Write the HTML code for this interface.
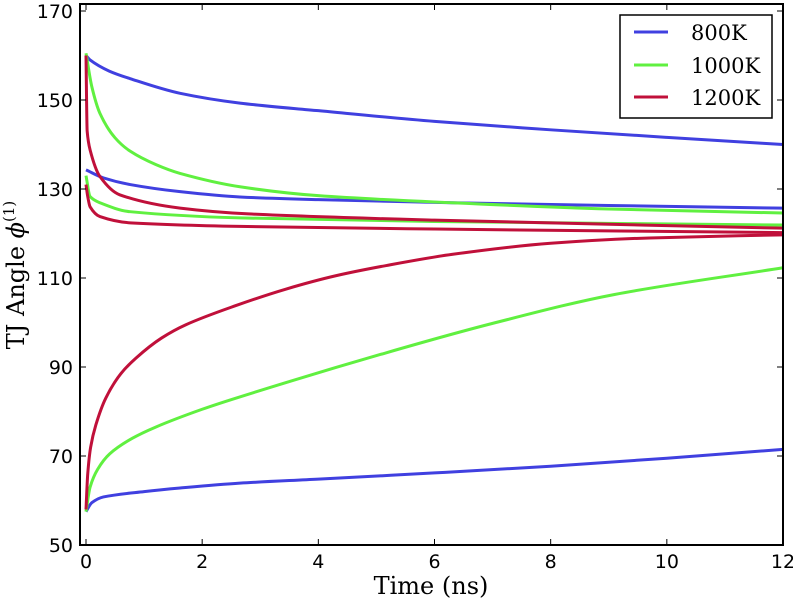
<!DOCTYPE html>
<html><head><meta charset="utf-8"><style>
body{margin:0;background:#fff;}
svg{display:block;}
.tk{font-family:"DejaVu Sans","Liberation Sans",sans-serif;font-size:19px;fill:#000;}
.lab{font-family:"DejaVu Serif","Liberation Serif",serif;font-size:24px;fill:#000;}
.leg{font-family:"DejaVu Serif","Liberation Serif",serif;font-size:21px;fill:#000;}
</style></head><body>
<svg id="chart" width="793" height="601">
<g id="series"></g>
<rect x="80" y="4" width="703" height="541" fill="none" stroke="#000" stroke-width="2"/>
<g id="ticks"></g>
<text class="lab" x="431" y="594" text-anchor="middle">Time (ns)</text>
<text class="lab" transform="translate(24,275) rotate(-90)" text-anchor="middle">TJ Angle <tspan font-style="italic">ϕ</tspan><tspan font-size="15" dy="-10">(1)</tspan></text>
<g>
<rect x="620" y="15" width="152" height="103" fill="#fff" stroke="#000" stroke-width="1.5"/>
<line x1="634" y1="32" x2="668" y2="32" stroke="#4040e0" stroke-width="3"/>
<text class="leg" x="691" y="40">800K</text>
<line x1="634" y1="65" x2="668" y2="65" stroke="#60f040" stroke-width="3"/>
<text class="leg" x="691" y="73">1000K</text>
<line x1="634" y1="97" x2="668" y2="97" stroke="#c0103a" stroke-width="3"/>
<text class="leg" x="691" y="105">1200K</text>
</g>
</svg>
<script>
const xTicks=[0,2,4,6,8,10,12];
const yTicks=[50,70,90,110,130,150,170];
const t800a=[0,0.07,0.4,0.76,1.62,2.65,4,6,8,10,12];
const v800a=[160,159,156.5,154.8,151.5,149.3,147.6,145.2,143.3,141.6,140];
const t800b=[0,0.3,0.76,1.62,2.65,4,6.3,9,12];
const v800b=[134.3,132.5,131,129.4,128.2,127.6,126.9,126.3,125.7];
const t800c=[0,0.1,0.3,1,1.62,2.65,4,6,8,10,12];
const v800c=[57.5,59.5,60.8,62,62.8,63.9,64.8,66.2,67.7,69.5,71.5];
const t1000a=[0,0.1,0.24,0.5,0.76,1.2,1.62,2.65,4,6.3,9,12];
const v1000a=[160.5,153,147,141.5,138.5,135.5,133.5,130.5,128.5,126.9,125.5,124.6];
const t1000b=[0,0.07,0.24,0.76,2.65,6,12];
const v1000b=[133,128.3,126.9,124.9,123.5,122.7,121.9];
const t1000c=[0,0.07,0.2,0.41,0.8,1.2,2,2.58,5.17,7,9.1,12];
const v1000c=[57.5,63,67,70.5,74,76.5,80.5,83,93.2,99.8,106.3,112.3];
const t1200a=[0,0.02,0.07,0.24,0.58,1.62,2.8,6,12];
const v1200a=[160,143,138.8,132.8,128.7,125.7,124.4,123,121.2];
const t1200b=[0,0.03,0.07,0.24,0.76,2.65,6,12];
const v1200b=[131,128.3,126,123.8,122.4,121.6,121,120.2];
const t1200c=[0,0.03,0.08,0.17,0.34,0.6,0.86,1.3,1.72,2.58,3.44,4.3,5.17,6.3,8,9.7,12];
const v1200c=[58,66,72,77,83,88.5,92,96.5,99.5,103.8,107.5,110.5,112.8,115.3,117.8,119,119.7];
const X=t=>86+t*(783-86)/12;
const Y=v=>545-(v-50)*4.45;
const NS="http://www.w3.org/2000/svg";
const tg=document.getElementById('ticks');
function tick(x1,y1,x2,y2,name){
 const l=document.createElementNS(NS,'line');
 l.setAttribute('x1',x1);l.setAttribute('x2',x2);l.setAttribute('y1',y1);l.setAttribute('y2',y2);l.setAttribute('stroke','#000');
 
 
 tg.appendChild(l);
}
xTicks.forEach(t=>{
 tick(X(t),545,X(t),539,'x-tick');
 tick(X(t),4,X(t),10,'x-tick-top');
 const tx=document.createElementNS(NS,'text');
 tx.setAttribute('class','tk');tx.setAttribute('x',X(t));tx.setAttribute('y',568);tx.setAttribute('text-anchor','middle');tx.textContent=t;
 
 
 tg.appendChild(tx);
});
yTicks.forEach(v=>{
 tick(80,Y(v),86,Y(v),'y-tick');
 tick(783,Y(v),777,Y(v),'y-tick-right');
 const tx=document.createElementNS(NS,'text');
 tx.setAttribute('class','tk');tx.setAttribute('x',73);tx.setAttribute('y',Y(v)+7);tx.setAttribute('text-anchor','end');tx.textContent=v;
 
 
 tg.appendChild(tx);
});
const sg=document.getElementById('series');
function mono(xs,ys){
 const n=xs.length,d=[],m=[];
 for(let i=0;i<n-1;i++)d.push((ys[i+1]-ys[i])/(xs[i+1]-xs[i]));
 m[0]=d[0];m[n-1]=d[n-2];
 for(let i=1;i<n-1;i++){m[i]=(d[i-1]*d[i]<=0)?0:2/(1/d[i-1]+1/d[i]);}
 let s='M'+xs[0].toFixed(2)+','+ys[0].toFixed(2);
 for(let i=0;i<n-1;i++){const h=xs[i+1]-xs[i];
  s+=' C'+(xs[i]+h/3).toFixed(2)+','+(ys[i]+m[i]*h/3).toFixed(2)+' '+(xs[i+1]-h/3).toFixed(2)+','+(ys[i+1]-m[i+1]*h/3).toFixed(2)+' '+xs[i+1].toFixed(2)+','+ys[i+1].toFixed(2);}
 return s;
}
function draw(ts,vs,col,name){
 const p=document.createElementNS(NS,'path');
 p.setAttribute('d',mono(ts.map(X),vs.map(Y)));
 p.setAttribute('fill','none');p.setAttribute('stroke',col);p.setAttribute('stroke-width','3');p.setAttribute('stroke-linejoin','round');
 
 
 sg.appendChild(p);
}
draw(t800a,v800a,'#4040e0','line-800k-upper');
draw(t800b,v800b,'#4040e0','line-800k-middle');
draw(t800c,v800c,'#4040e0','line-800k-lower');
draw(t1000a,v1000a,'#60f040','line-1000k-upper');
draw(t1000b,v1000b,'#60f040','line-1000k-middle');
draw(t1000c,v1000c,'#60f040','line-1000k-lower');
draw(t1200a,v1200a,'#c0103a','line-1200k-upper');
draw(t1200b,v1200b,'#c0103a','line-1200k-middle');
draw(t1200c,v1200c,'#c0103a','line-1200k-lower');
</script>
</body></html>
